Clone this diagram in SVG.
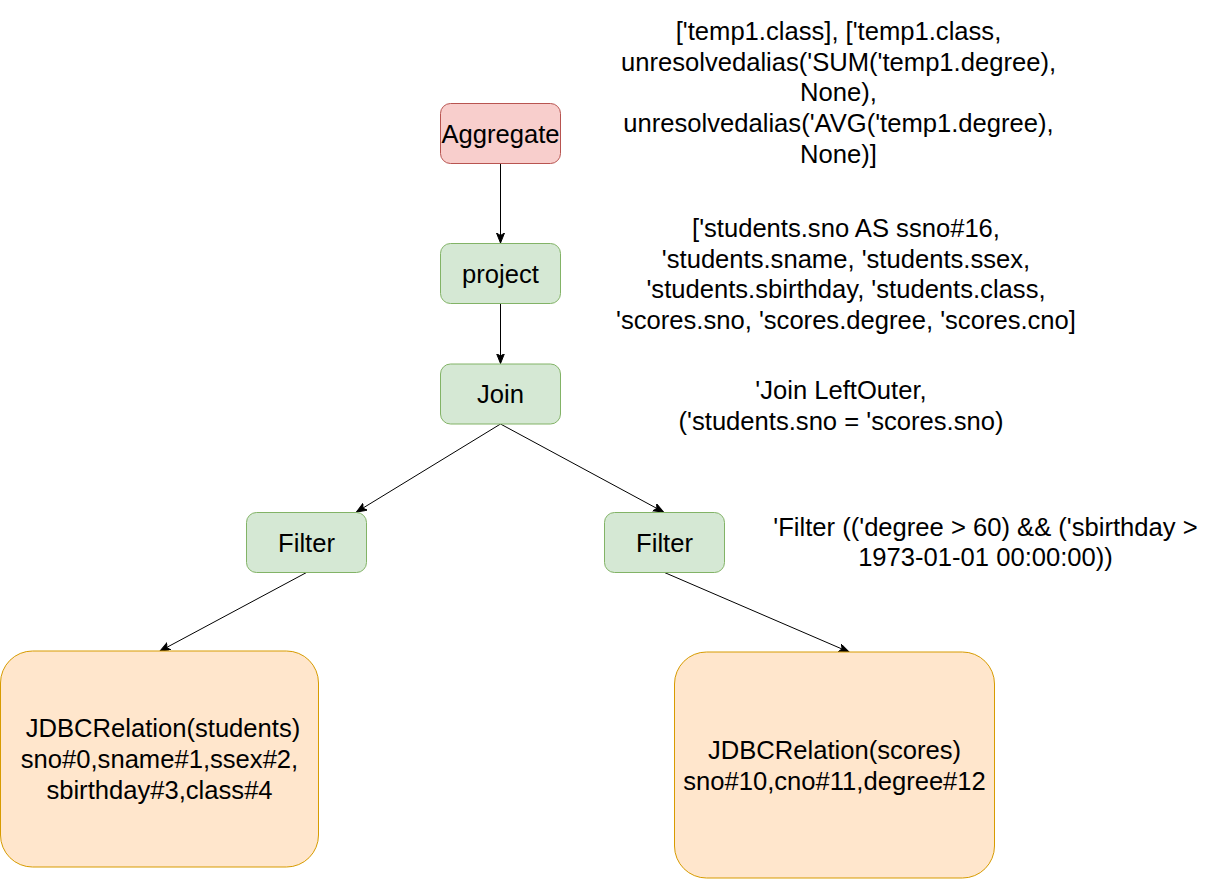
<svg xmlns="http://www.w3.org/2000/svg" width="1227" height="879" viewBox="0 0 1227 879">
<defs>
<style>
text{font-family:"Liberation Sans",Arial,Helvetica,sans-serif;font-size:25.6px;fill:#000;text-anchor:middle}
.red{fill:#f8cecc;stroke:#b85450;stroke-width:1}
.green{fill:#d5e8d4;stroke:#82b366;stroke-width:1}
.orange{fill:#ffe6cc;stroke:#d79b00;stroke-width:1}
.edge{fill:none;stroke:#000;stroke-width:1;marker-end:url(#arrow)}
</style>
<marker id="arrow" markerUnits="userSpaceOnUse" markerWidth="12" markerHeight="10" refX="10" refY="4" orient="auto" viewBox="0 0 12 10">
<path d="M0,0 L10,4 L0,8 L2.5,4 Z" fill="#000" stroke="#000" stroke-width="1"/>
</marker>
</defs>
<rect width="1227" height="879" fill="#fff"/>
<g id="connectors">
<path class="edge" d="M500.5,163.5 L500.5,243"/>
<path class="edge" d="M500.5,303.5 L500.5,363.5"/>
<path class="edge" d="M500.5,424 L356.5,512"/>
<path class="edge" d="M500.5,424 L663.5,512"/>
<path class="edge" d="M306.5,572.5 L160,651"/>
<path class="edge" d="M664.5,572.5 L849,652"/>
</g>
<g id="aggregate">
<rect class="red" x="440.5" y="103.5" width="120" height="60" rx="10"/>
<text x="500.5" y="142.5">Aggregate</text>
</g>
<g id="project">
<rect class="green" x="440.5" y="243.5" width="120" height="60" rx="10"/>
<text x="500.5" y="282.5">project</text>
</g>
<g id="join">
<rect class="green" x="440.5" y="364" width="120" height="60" rx="10"/>
<text x="500.5" y="403">Join</text>
</g>
<g id="filter-left">
<rect class="green" x="246.5" y="512.5" width="120" height="60" rx="10"/>
<text x="306.5" y="551.5">Filter</text>
</g>
<g id="filter-right">
<rect class="green" x="604.5" y="512.5" width="120" height="60" rx="10"/>
<text x="664.5" y="551.5">Filter</text>
</g>
<g id="jdbc-students">
<rect class="orange" x="0.5" y="651" width="318" height="216" rx="32"/>
<text x="163" y="736.5">JDBCRelation(students)</text>
<text x="159.5" y="767.5">sno#0,sname#1,ssex#2,</text>
<text x="159.5" y="798.5">sbirthday#3,class#4</text>
</g>
<g id="jdbc-scores">
<rect class="orange" x="674.5" y="652" width="320" height="226" rx="32"/>
<text x="834.5" y="759">JDBCRelation(scores)</text>
<text x="834.5" y="790">sno#10,cno#11,degree#12</text>
</g>
<g id="aggregate-note">
<text x="838.5" y="40">['temp1.class], ['temp1.class,</text>
<text x="838.5" y="70.7">unresolvedalias('SUM('temp1.degree),</text>
<text x="838.5" y="101.4">None),</text>
<text x="838.5" y="132.1">unresolvedalias('AVG('temp1.degree),</text>
<text x="838.5" y="162.8">None)]</text>
</g>
<g id="project-note">
<text x="846" y="237">['students.sno AS ssno#16,</text>
<text x="846" y="267.7">'students.sname, 'students.ssex,</text>
<text x="846" y="298.4">'students.sbirthday, 'students.class,</text>
<text x="846" y="329.1">'scores.sno, 'scores.degree, 'scores.cno]</text>
</g>
<g id="join-note">
<text x="841" y="399">'Join LeftOuter,</text>
<text x="841" y="429.7">('students.sno = 'scores.sno)</text>
</g>
<g id="filter-note">
<text x="985.5" y="535.5">'Filter (('degree &gt; 60) &amp;&amp; ('sbirthday &gt;</text>
<text x="985.5" y="566.2">1973-01-01 00:00:00))</text>
</g>
</svg>
